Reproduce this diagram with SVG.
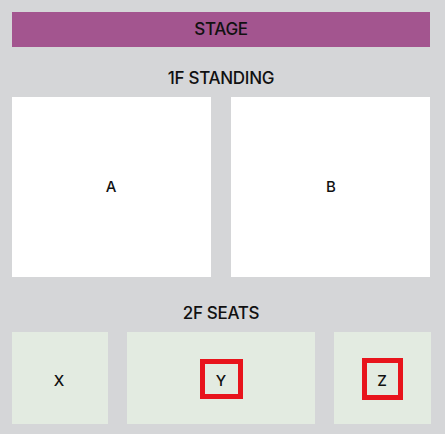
<svg xmlns="http://www.w3.org/2000/svg" width="445" height="434" viewBox="0 0 445 434">
<style>
text{font-family:Inter,"Noto Sans",sans-serif;fill:#111;text-anchor:middle;dominant-baseline:central}
.h{font-size:17px;font-weight:500;letter-spacing:-0.3px}
.l{font-size:15px;font-weight:500}
.floor{fill:#ffffff}
.seat{fill:#e3ebe1}
.mark{fill:none;stroke:#e8141c;stroke-width:5}
</style>
<rect width="445" height="434" fill="#d5d6d8"/>
<g id="stage"><rect x="12" y="12" width="418" height="35" fill="#a3558f"/><text class="h" x="221" y="29">STAGE</text></g>
<text class="h" x="221" y="78">1F STANDING</text>
<g id="A"><rect class="floor" x="12" y="97" width="199" height="180"/><text class="l" x="111" y="186">A</text></g>
<g id="B"><rect class="floor" x="231" y="97" width="199" height="180"/><text class="l" x="331" y="186">B</text></g>
<text class="h" x="221" y="313">2F SEATS</text>
<g id="X"><rect class="seat" x="12" y="332" width="96" height="92"/><text class="l" x="59" y="380">X</text></g>
<g id="Y"><rect class="seat" x="127" y="332" width="188" height="92"/><rect class="mark" x="202.5" y="361.5" width="38" height="35"/><text class="l" x="221" y="380">Y</text></g>
<g id="Z"><rect class="seat" x="334" y="332" width="97" height="92"/><rect class="mark" x="364.5" y="360.5" width="36" height="37"/><text class="l" x="382" y="380">Z</text></g>
<g id="connectors"/>
</svg>
